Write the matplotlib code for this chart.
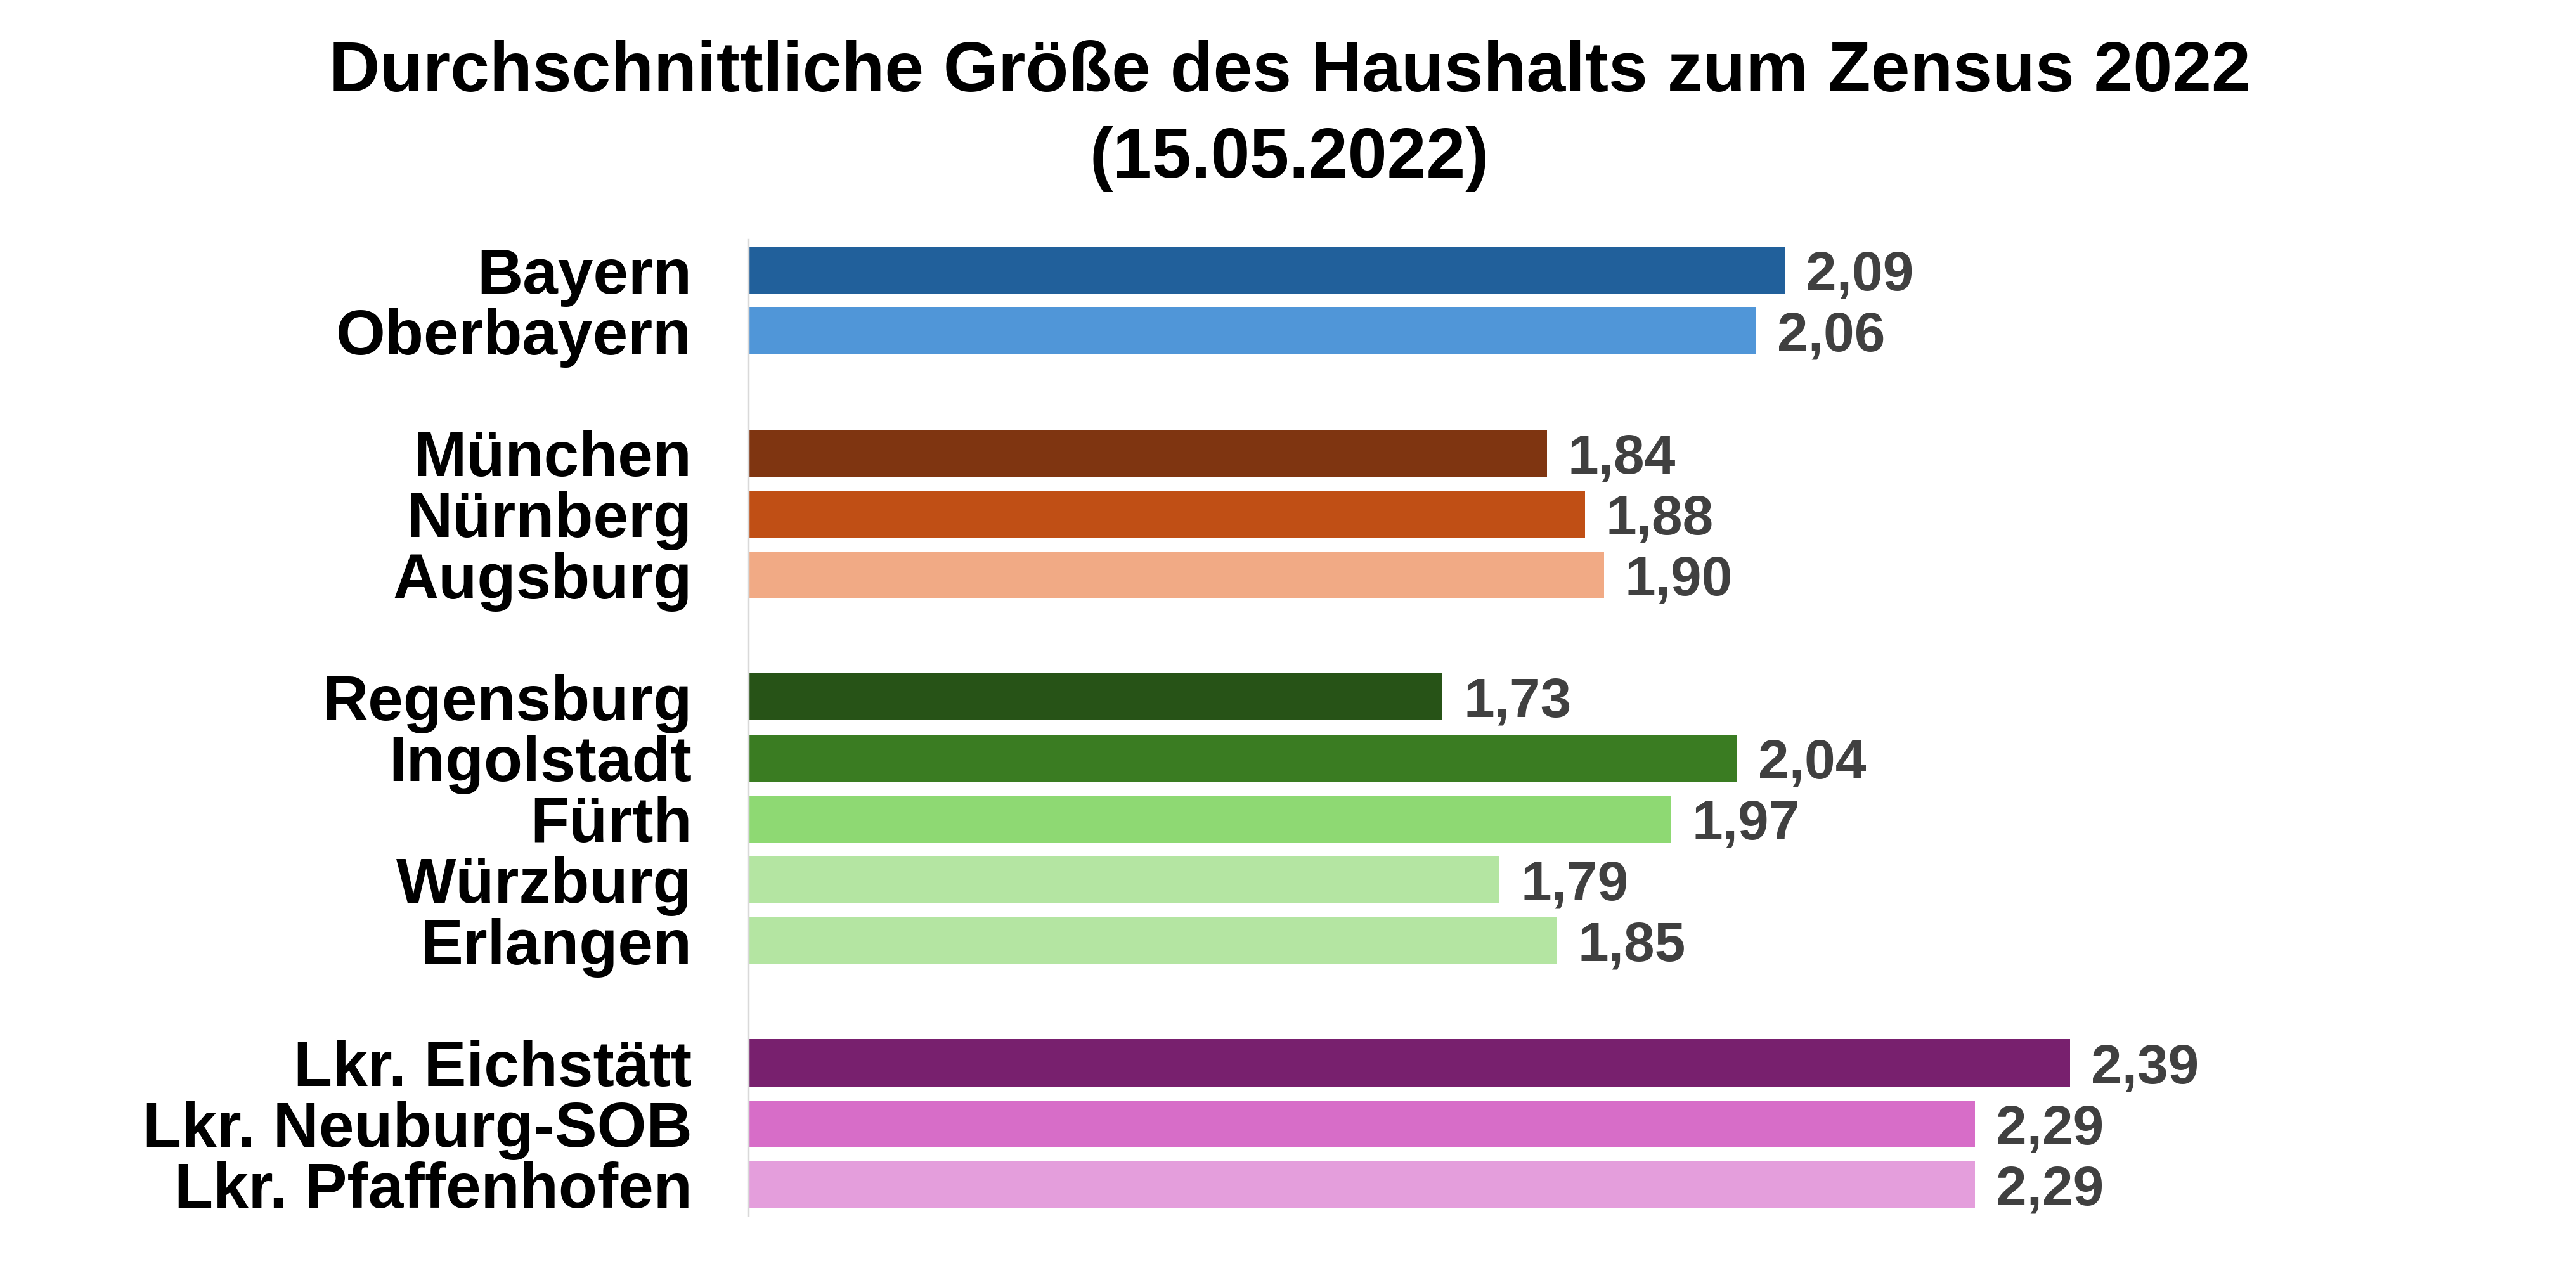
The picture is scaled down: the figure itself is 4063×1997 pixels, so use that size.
import matplotlib
matplotlib.use("Agg")
import matplotlib.pyplot as plt

plt.rcParams['font.family'] = ['Liberation Sans', 'DejaVu Sans']

categories = ["Bayern", "Oberbayern", "", "München", "Nürnberg", "Augsburg", "",
              "Regensburg", "Ingolstadt", "Fürth", "Würzburg", "Erlangen", "",
              "Lkr. Eichstätt", "Lkr. Neuburg-SOB", "Lkr. Pfaffenhofen"]
values = [2.09, 2.06, None, 1.84, 1.88, 1.90, None,
          1.73, 2.04, 1.97, 1.79, 1.85, None,
          2.39, 2.29, 2.29]
colors = ["#21609B", "#5096D8", None, "#7F3511", "#C04F15", "#F1AA85", None,
          "#275317", "#3A7C22", "#8ED973", "#B4E5A2", "#B4E5A2", None,
          "#78206E", "#D76DC8", "#E49EDC"]
title = "Durchschnittliche Größe des Haushalts zum Zensus 2022\n(15.05.2022)"
x_min, x_max = 1.0, 2.5

W, H = 4063, 1997
fig = plt.figure(figsize=(W / 100, H / 100), dpi=100)
ax = fig.add_axes([1180 / W, (H - 1917) / H, 2250 / W, 1539 / H])

for y, (cat, v, c) in enumerate(zip(categories, values, colors)):
    if v is None:
        continue
    ax.barh(y, v - x_min, left=x_min, height=0.77, color=c, edgecolor='none')
    ax.text(v + 0.022, y, f"{v:.2f}".replace(".", ","), va='center_baseline', ha='left',
            fontsize=63, fontweight='bold', color='#404040', clip_on=False)
    ax.text(x_min - 0.059, y, cat, va='center_baseline', ha='right',
            fontsize=72, fontweight='bold', color='black')

ax.set_xlim(x_min, x_max)
ax.set_ylim(len(categories) - 0.5, -0.5)
ax.set_xticks([])
ax.set_yticks([])
for s in ['top', 'right', 'bottom']:
    ax.spines[s].set_visible(False)
ax.spines['left'].set_color('#D9D9D9')
ax.spines['left'].set_linewidth(2.5)

fig.text(2034 / W, 1 - 183 / H, title, ha='center', va='center',
         fontsize=80, fontweight='bold', color='black', linespacing=1.4)

fig.savefig("out.png", dpi=100, facecolor='white')
